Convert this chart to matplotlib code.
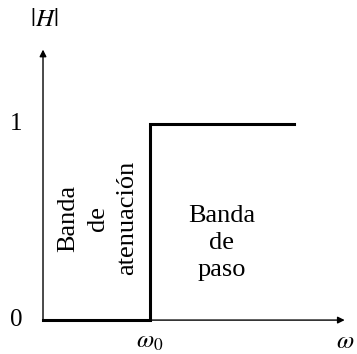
import matplotlib
matplotlib.use("Agg")
import matplotlib.pyplot as plt

plt.rcParams['font.family'] = ['Liberation Serif', 'DejaVu Serif']
plt.rcParams['mathtext.fontset'] = 'stix'

# ideal high-pass magnitude response, omega in units of omega_0
w = [0.0, 1.0, 1.0, 2.35]
H = [0.0, 0.0, 1.0, 1.0]
yticks = [0, 1]
ytick_labels = ['0', '1']
w_axis_end = 2.82
h_axis_end = 1.38

fig = plt.figure(figsize=(3.57, 3.54), dpi=100)
ax = fig.add_axes([0, 0, 1, 1])
ax.set_xlim(-0.402, 2.935)
ax.set_ylim(-0.173, 1.633)
ax.axis('off')

# axes with arrow heads
arrow = dict(arrowstyle='-|>', color='black', lw=1.0, mutation_scale=10,
             shrinkA=0, shrinkB=0)
ax.annotate('', xy=(w_axis_end, 0), xytext=(0, 0), arrowprops=arrow)
ax.annotate('', xy=(0, h_axis_end), xytext=(0, 0), arrowprops=arrow)

ax.plot(w, H, color='black', lw=2.2, solid_joinstyle='miter')

for v, lab in zip(yticks, ytick_labels):
    ax.text(-0.25, v, lab, fontsize=18, ha='center', va='center')

ax.text(0.01, 1.53, r'$|H|$', fontsize=18, ha='center', va='center')
ax.text(w[1], -0.112, r'$\omega_0$', fontsize=18, ha='center', va='center')
ax.text(2.82, -0.112, r'$\omega$', fontsize=18, ha='center', va='center')

ax.text(0.51, 0.52, 'Banda\nde\natenuación', fontsize=19, rotation=90,
        ha='center', va='center', multialignment='center', linespacing=1.45)
ax.text(1.67, 0.393, 'Banda\nde\npaso', fontsize=19, ha='center', va='center',
        multialignment='center', linespacing=1.3)

fig.savefig('out.png', dpi=100)
